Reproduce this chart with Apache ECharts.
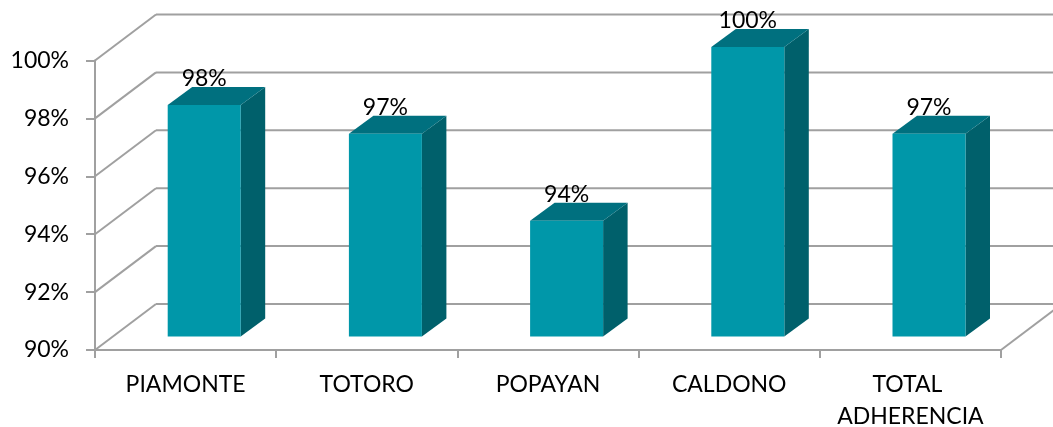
<!DOCTYPE html>
<html>
<head>
<meta charset="utf-8">
<style>
  html, body { margin: 0; padding: 0; background: #fff; }
  #chart { width: 1053px; height: 427px; }
</style>
<script src="https://cdn.jsdelivr.net/npm/echarts@6/dist/echarts.min.js"></script>
</head>
<body>
<div id="chart"></div>
<script>
  var categories = ['PIAMONTE', 'TOTORO', 'POPAYAN', 'CALDONO', 'TOTAL ADHERENCIA']
  var values = [98, 97, 94, 100, 97]
  var yTicks = [90, 92, 94, 96, 98, 100]

  var gridColor = '#a0a0a0'
  var fontName = 'Lato'
  // fake 3d offsets in px
  var wall = [61, -46]
  var gap = [18.6, -13.5]
  var depth = [24.5, -18]
  var barWidth = 73

  function poly(points, color) {
    return { type: 'polygon', shape: { points: points }, style: { fill: color } }
  }

  function line(x1, y1, x2, y2) {
    return {
      type: 'line',
      shape: { x1: x1, y1: y1, x2: x2, y2: y2 },
      style: { stroke: gridColor, lineWidth: 2 }
    }
  }

  function renderWall(params, api) {
    var sys = params.coordSys
    var y = api.coord([0, api.value(0)])[1]
    var left = sys.x
    var right = sys.x + sys.width
    var children = [
      line(left, y, left + wall[0], y + wall[1]),
      line(left + wall[0], y + wall[1], right + wall[0], y + wall[1])
    ]
    if (api.value(0) === yTicks[0]) {
      children.push(line(right, y, right + wall[0], y + wall[1]))
    }
    return { type: 'group', children: children }
  }

  function renderBar(params, api) {
    var top = api.coord([api.value(0), api.value(1)])
    var base = api.coord([api.value(0), yTicks[0]])
    var x0 = top[0] + gap[0] - barWidth / 2
    var x1 = x0 + barWidth
    var yt = top[1] + gap[1]
    var yb = base[1] + gap[1]
    var dx = depth[0]
    var dy = depth[1]
    return {
      type: 'group',
      children: [
        poly([[x1, yb], [x1 + dx, yb + dy], [x1 + dx, yt + dy], [x1, yt]], '#00606b'),
        poly([[x0, yt], [x1, yt], [x1 + dx, yt + dy], [x0 + dx, yt + dy]], '#00707f'),
        poly([[x0, yt], [x1, yt], [x1, yb], [x0, yb]], '#0097a9'),
        {
          type: 'text',
          style: {
            text: api.value(1) + '%',
            x: top[0] + gap[0],
            y: yt - 26,
            align: 'center',
            verticalAlign: 'middle',
            fill: '#000',
            font: '23px ' + fontName
          }
        }
      ]
    }
  }

  var chart = echarts.init(document.getElementById('chart'))
  chart.setOption({
    animation: false,
    grid: { left: 95, right: 52, top: 60.5, bottom: 77, outerBoundsMode: 'none' },
    xAxis: {
      type: 'category',
      data: categories,
      axisLine: { lineStyle: { color: gridColor, width: 2 } },
      axisTick: { show: true, alignWithLabel: false, length: 8, lineStyle: { color: gridColor, width: 2 } },
      axisLabel: {
        interval: 0,
        color: '#000',
        fontFamily: fontName,
        fontSize: 23,
        lineHeight: 32,
        margin: 19,
        width: 170,
        overflow: 'break'
      }
    },
    yAxis: {
      type: 'value',
      min: 90,
      max: 100,
      interval: 2,
      axisLine: { show: true, lineStyle: { color: gridColor, width: 2 } },
      axisTick: { show: true, length: 9, lineStyle: { color: gridColor, width: 2 } },
      splitLine: { show: false },
      axisLabel: {
        formatter: '{value}%',
        color: '#000',
        fontFamily: fontName,
        fontSize: 23,
        margin: 26,
        padding: [3, 0, 0, 0]
      }
    },
    series: [{
      type: 'custom',
      renderItem: renderWall,
      data: yTicks,
      encode: { y: 0 },
      silent: true,
      z: 1
    }, {
      type: 'custom',
      renderItem: renderBar,
      data: values.map(function (v, i) { return [i, v] }),
      encode: { x: 0, y: 1 },
      z: 3
    }]
  })
</script>
</body>
</html>
